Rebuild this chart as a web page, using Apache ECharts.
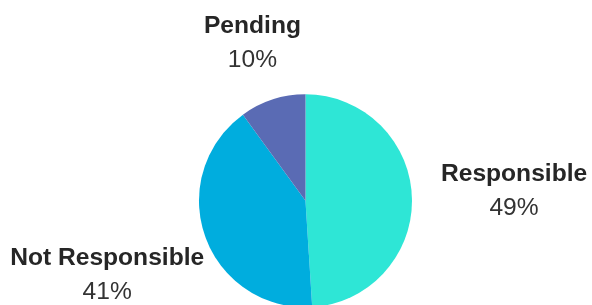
<!DOCTYPE html>
<html>
<head>
<meta charset="utf-8">
<script src="https://cdn.jsdelivr.net/npm/echarts@6/dist/echarts.min.js"></script>
<style>
html,body{margin:0;padding:0;background:#fff;}
#chart{width:592px;height:305px;}
</style>
</head>
<body>
<div id="chart"></div>
<script>
const categories = ['Responsible', 'Not Responsible', 'Pending'];
const values = [49, 41, 10];
const colors = ['#2EE6D6', '#00ADDE', '#5A6BB4'];
// label nudges (layout only)
const labelNudge = [[-1, -6], [28, 33], [48, -42]];

const chart = echarts.init(document.getElementById('chart'), null, {renderer: 'canvas'});
chart.setOption({
  animation: false,
  backgroundColor: '#ffffff',
  series: [{
    type: 'pie',
    center: [305.5, 200.8],
    radius: 106.5,
    startAngle: 90,
    clockwise: true,
    avoidLabelOverlap: false,
    data: categories.map((c, i) => ({name: c, value: values[i], itemStyle: {color: colors[i]}})),
    itemStyle: {borderWidth: 0},
    label: {
      show: true,
      position: 'outside',
      formatter: '{n|{b}}\n{p|{c}%}',
      align: 'center',
      rich: {
        n: {fontFamily: 'Liberation Sans', fontWeight: 'bold', fontSize: 24.6, color: '#262626', lineHeight: 34, align: 'center'},
        p: {fontFamily: 'Liberation Sans', fontSize: 24.6, color: '#333333', lineHeight: 34, align: 'center'}
      }
    },
    labelLine: {show: false, length: 15, length2: 10},
    labelLayout: function (params) {
      const n = labelNudge[params.dataIndex];
      return {dx: n[0], dy: n[1]};
    }
  }]
});
</script>
</body>
</html>
